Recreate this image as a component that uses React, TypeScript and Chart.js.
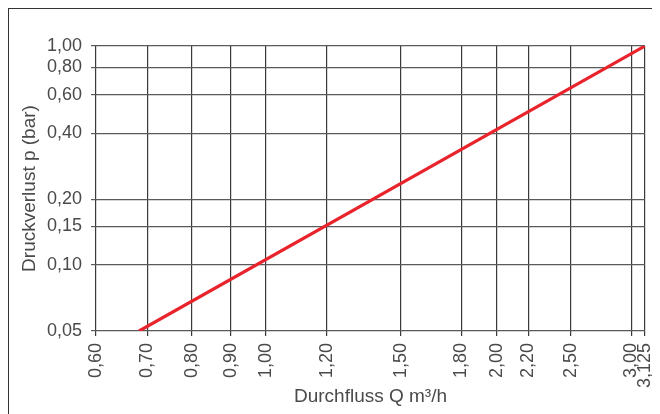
import React, { useEffect, useRef } from 'react';
import { Chart, registerables } from 'chart.js';

Chart.register(...registerables);

const X_TICKS = [0.6, 0.7, 0.8, 0.9, 1.0, 1.2, 1.5, 1.8, 2.0, 2.2, 2.5, 3.0, 3.125];
const X_TICK_LABELS = ['0,60', '0,70', '0,80', '0,90', '1,00', '1,20', '1,50', '1,80', '2,00', '2,20', '2,50', '3,00', '3,125'];
const Y_TICKS = [0.05, 0.1, 0.15, 0.2, 0.4, 0.6, 0.8, 1.0];
const Y_TICK_LABELS = ['0,05', '0,10', '0,15', '0,20', '0,40', '0,60', '0,80', '1,00'];
const FLOW = [0.683, 3.125];
const PRESSURE = [0.05, 1.0];

const X_TITLE = 'Durchfluss Q m³/h';
const Y_TITLE = 'Druckverlust p (bar)';

export default function App() {
  const ref = useRef<HTMLCanvasElement | null>(null);

  useEffect(() => {
    if (!ref.current) return;
    const family = '"Liberation Sans", Arial, sans-serif';
    const tickFont = { family, size: 18, weight: 'normal' as any };
    const titleFont = { family, size: 19, weight: 'normal' as any };
    const textColor = '#4a4a4a';
    const chart = new Chart(ref.current, {
      type: 'line',
      data: {
        datasets: [
          {
            data: FLOW.map((q, i) => ({ x: q, y: PRESSURE[i] })),
            borderColor: '#e8232b',
            borderWidth: 3.2,
            pointRadius: 0,
            tension: 0,
            fill: false,
          },
        ],
      },
      options: {
        animation: false,
        responsive: false,
        maintainAspectRatio: false,
        layout: { padding: { top: 37, right: 14, left: 0, bottom: 0 } },
        plugins: { legend: { display: false }, tooltip: { enabled: false } },
        scales: {
          x: {
            type: 'logarithmic',
            min: 0.6,
            max: 3.125,
            afterBuildTicks: (axis: any) => {
              axis.ticks = X_TICKS.map((v) => ({ value: v }));
            },
            afterFit: (axis: any) => {
              axis.height = 82;
              axis.paddingLeft = 0;
              axis.paddingRight = 0;
            },
            ticks: {
              autoSkip: false,
              minRotation: 90,
              maxRotation: 90,
              padding: 7,
              color: textColor,
              font: tickFont,
              callback: (_v: any, i: number) => X_TICK_LABELS[i],
            },
            grid: { color: '#3a3a3a', lineWidth: 1.2, tickLength: 5, drawTicks: true },
            border: { display: false },
            title: {
              display: true,
              text: X_TITLE,
              color: textColor,
              font: titleFont,
              padding: { top: 0, bottom: 5 },
            },
          },
          y: {
            type: 'logarithmic',
            min: 0.05,
            max: 1.0,
            afterBuildTicks: (axis: any) => {
              axis.ticks = Y_TICKS.map((v) => ({ value: v }));
            },
            afterFit: (axis: any) => {
              axis.width = 87;
              axis.paddingTop = 0;
              axis.paddingBottom = 0;
            },
            ticks: {
              autoSkip: false,
              padding: 9,
              color: textColor,
              font: tickFont,
              callback: (_v: any, i: number) => Y_TICK_LABELS[i],
            },
            grid: { color: '#5a5a5a', lineWidth: 1.2, tickLength: 5, drawTicks: true },
            border: { display: false },
            title: {
              display: true,
              text: Y_TITLE,
              color: textColor,
              font: titleFont,
              padding: { top: 9, bottom: 0 },
            },
          },
        },
      },
    });
    return () => chart.destroy();
  }, []);

  return (
    <div
      style={{
        position: 'relative',
        width: 652,
        height: 406,
        boxSizing: 'border-box',
        borderTop: '1.5px solid #333',
        borderLeft: '1.5px solid #333',
      }}
    >
      <canvas ref={ref} width={650} height={404} style={{ display: 'block', width: 650, height: 404 }} />
    </div>
  );
}
